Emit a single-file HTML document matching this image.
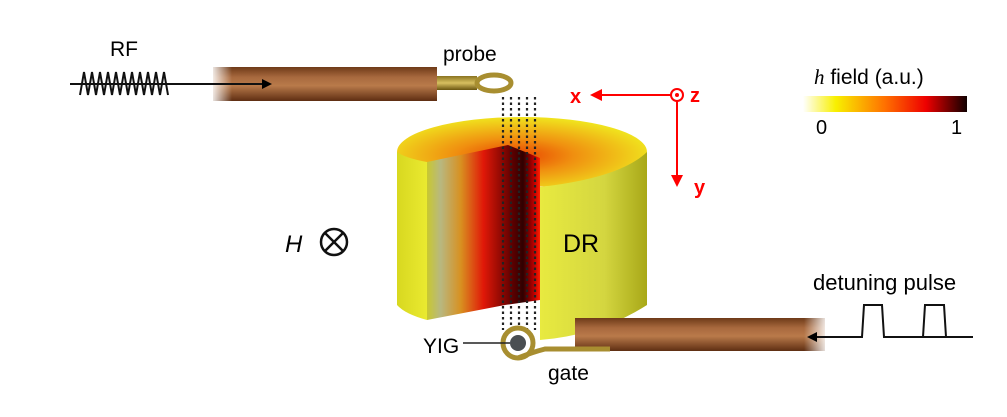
<!DOCTYPE html>
<html><head><meta charset="utf-8"><style>
html,body{margin:0;padding:0;background:#fff;}
svg{display:block;}
text{font-family:"Liberation Sans",sans-serif;}
</style></head><body>
<svg width="1007" height="417" viewBox="0 0 1007 417" xmlns="http://www.w3.org/2000/svg">
<defs>
<linearGradient id="cab" x1="0" y1="0" x2="0" y2="1">
<stop offset="0" stop-color="#6e3a18"/><stop offset="0.3" stop-color="#a8693e"/><stop offset="0.55" stop-color="#b97a4a"/><stop offset="1" stop-color="#5e2e12"/>
</linearGradient>
<linearGradient id="fadeL" x1="0" y1="0" x2="1" y2="0">
<stop offset="0" stop-color="#fff" stop-opacity="1"/><stop offset="1" stop-color="#fff" stop-opacity="0"/>
</linearGradient>
<linearGradient id="gold" x1="0" y1="0" x2="0" y2="1">
<stop offset="0" stop-color="#8a7420"/><stop offset="0.5" stop-color="#d8c060"/><stop offset="1" stop-color="#6a5510"/>
</linearGradient>
<linearGradient id="side" x1="0" y1="0" x2="1" y2="0">
<stop offset="0" stop-color="#d8d820"/><stop offset="1" stop-color="#eaea30"/>
</linearGradient>
<linearGradient id="dr" x1="0" y1="0" x2="1" y2="0">
<stop offset="0" stop-color="#e8ea40"/><stop offset="0.6" stop-color="#d4d640"/><stop offset="1" stop-color="#a8a818"/>
</linearGradient>
<linearGradient id="cut" x1="0" y1="0" x2="1" y2="0">
<stop offset="0" stop-color="#c8c830"/><stop offset="0.12" stop-color="#b8b880"/><stop offset="0.3" stop-color="#d89020"/><stop offset="0.5" stop-color="#e01808"/><stop offset="0.75" stop-color="#600000"/><stop offset="0.85" stop-color="#300000"/><stop offset="0.95" stop-color="#c00000"/><stop offset="1" stop-color="#ff2000"/>
</linearGradient>
<radialGradient id="top" cx="0.47" cy="0.55" r="0.6">
<stop offset="0" stop-color="#e84000"/><stop offset="0.4" stop-color="#f09010"/><stop offset="1" stop-color="#f0f020"/>
</radialGradient>
<linearGradient id="leg" x1="0" y1="0" x2="1" y2="0">
<stop offset="0" stop-color="#ffffff"/><stop offset="0.2" stop-color="#f8f000"/><stop offset="0.5" stop-color="#ff7000"/><stop offset="0.75" stop-color="#ee0000"/><stop offset="1" stop-color="#100000"/>
</linearGradient>
<marker id="ah" markerWidth="10" markerHeight="10" refX="8" refY="5" orient="auto" markerUnits="userSpaceOnUse"><path d="M0,0 L10,5 L0,10 Z" fill="#000"/></marker>
<marker id="ar" markerWidth="12" markerHeight="12" refX="10" refY="6" orient="auto" markerUnits="userSpaceOnUse"><path d="M0,0 L12,6 L0,12 Z" fill="#f00"/></marker>
</defs>

<!-- RF -->
<text x="110" y="56" font-size="21">RF</text>
<polyline fill="none" stroke="#111" stroke-width="2" points="80,95 84,72 88,95 92,72 96,95 100,72 104,95 108,72 112,95 116,72 120,95 124,72 128,95 132,72 136,95 140,72 144,95 148,72 152,95 156,72 160,95 164,72 168,95"/>

<!-- top cable -->
<rect x="213" y="67" width="224" height="34" fill="url(#cab)"/>
<rect x="210" y="66" width="22" height="36" fill="url(#fadeL)"/>
<line x1="70" y1="84" x2="270" y2="84" stroke="#111" stroke-width="2" marker-end="url(#ah)"/>
<rect x="437" y="76" width="40" height="14" fill="url(#gold)"/>
<ellipse cx="494" cy="83" rx="17" ry="8" fill="none" stroke="#a88e30" stroke-width="5"/>
<text x="443" y="61" font-size="21">probe</text>

<!-- cylinder -->
<ellipse cx="522" cy="152" rx="125" ry="35" fill="url(#top)"/>
<path d="M397,152 Q405,158 427,162 L427,320 Q405,314 397,305 Z" fill="url(#side)"/>
<polygon points="427,162 508,145 540,158 540,300 505,305 427,320" fill="url(#cut)"/>
<path d="M540,158 L540,340 Q600,335 647,305 L647,152 Q620,178 540,187 Z" fill="url(#dr)"/>
<text x="563" y="252" font-size="25">DR</text>

<!-- dotted field lines -->
<g stroke="#222" stroke-width="2.2" stroke-dasharray="2.5,3">
<line x1="503" y1="97" x2="503" y2="330"/>
<line x1="511" y1="97" x2="511" y2="330"/>
<line x1="519" y1="97" x2="519" y2="330"/>
<line x1="527" y1="97" x2="527" y2="330"/>
<line x1="535" y1="97" x2="535" y2="330"/>
</g>

<!-- bottom cable -->
<rect x="575" y="318" width="250" height="33" fill="url(#cab)"/>
<rect x="805" y="316" width="25" height="37" fill="url(#fadeL)" transform="rotate(180 817 334)"/>
<path d="M518,358 Q533,352 545,349 L610,349" fill="none" stroke="#a88e30" stroke-width="5"/>
<circle cx="518" cy="343" r="15" fill="none" stroke="#a88e30" stroke-width="5"/>
<circle cx="518" cy="343" r="8" fill="#4a4e52"/>
<line x1="463" y1="343" x2="510" y2="343" stroke="#222" stroke-width="1.5"/>
<text x="423" y="353" font-size="21">YIG</text>
<text x="548" y="380" font-size="21">gate</text>

<!-- detuning pulse -->
<text x="813" y="290" font-size="22">detuning pulse</text>
<polyline fill="none" stroke="#111" stroke-width="2" points="973,337 923,337 925,305 944,305 946,337 884,337 882,305 864,305 862,337 812,337"/>
<line x1="815" y1="337" x2="809" y2="337" stroke="#111" stroke-width="2" marker-end="url(#ah)"/>

<!-- axes -->
<line x1="671" y1="95" x2="592" y2="95" stroke="#f00" stroke-width="2" marker-end="url(#ar)"/>
<line x1="677" y1="101" x2="677" y2="185" stroke="#f00" stroke-width="2" marker-end="url(#ar)"/>
<circle cx="677" cy="95" r="6" fill="none" stroke="#f00" stroke-width="2"/>
<circle cx="677" cy="95" r="2" fill="#f00"/>
<text x="570" y="103" font-size="20" fill="#f00" font-weight="bold">x</text>
<text x="690" y="102" font-size="20" fill="#f00" font-weight="bold">z</text>
<text x="694" y="194" font-size="20" fill="#f00" font-weight="bold">y</text>

<!-- legend -->
<text x="814" y="84" font-size="21"><tspan font-family="Liberation Serif,serif" font-style="italic">h</tspan> field (a.u.)</text>
<rect x="803" y="96" width="164" height="16" fill="url(#leg)"/>
<text x="816" y="134" font-size="20">0</text>
<text x="951" y="134" font-size="20">1</text>

<!-- H -->
<text x="285" y="252" font-size="24" font-style="italic" font-family="Liberation Serif,serif">H</text>
<circle cx="334" cy="242" r="13" fill="none" stroke="#111" stroke-width="2.5"/>
<line x1="325" y1="233" x2="343" y2="251" stroke="#111" stroke-width="2.5"/>
<line x1="343" y1="233" x2="325" y2="251" stroke="#111" stroke-width="2.5"/>
</svg>
</body></html>
